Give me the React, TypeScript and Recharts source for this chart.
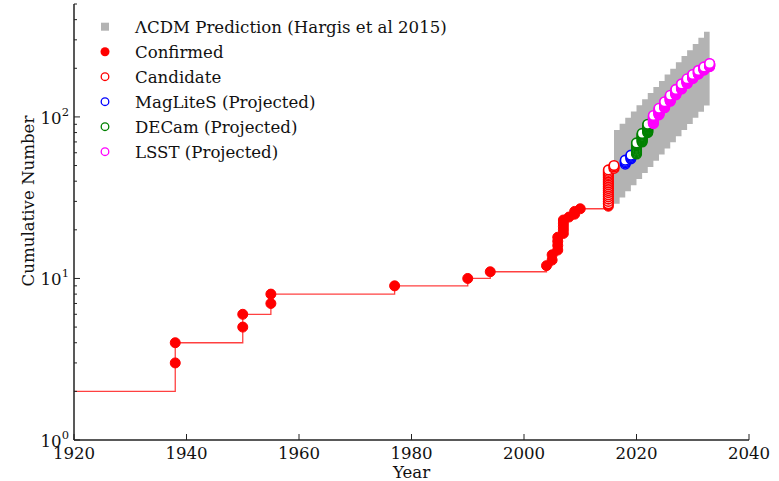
import React from 'react';
import { ComposedChart, XAxis, YAxis, Scatter, Line, Area, Legend, Label } from 'recharts';

const FONT = '"DejaVu Serif", "Liberation Serif", serif';
const FONT_SIZE = 16.6;
const AXIS_COLOR = '#222222';

// Satellites known before the first step (LMC, SMC)
const startYear = 1920;
const startCount = 2;

// Confirmed discoveries: year and running total
const confirmedYears = [
  1938, 1938, 1950, 1950, 1955, 1955, 1977, 1990, 1994, 2004, 2005, 2005, 2006, 2006,
  2006, 2006, 2007, 2007, 2007, 2007, 2007, 2008, 2009, 2009, 2010, 2015,
];
const confirmedCounts = [
  3, 4, 5, 6, 7, 8, 9, 10, 11, 12, 13, 14, 15, 16, 17, 18, 19, 20, 21, 22, 23, 24, 25, 26, 27, 28,
];

// Candidates: year and running total
const candidateYears = [
  2015, 2015, 2015, 2015, 2015, 2015, 2015, 2015, 2015, 2015, 2015, 2015, 2015, 2015, 2015,
  2015, 2015, 2015, 2015, 2016, 2016, 2016,
];
const candidateCounts = [
  29, 30, 31, 32, 33, 34, 35, 36, 37, 38, 39, 40, 41, 42, 43, 44, 45, 46, 47, 48, 49, 50,
];

// Projected running totals at the end of each survey year
const magLiteSYears = [2018, 2019];
const magLiteSTotals = [54, 58];
const decamYears = [2020, 2021, 2022];
const decamTotals = [69, 79, 90];
const lsstYears = [2023, 2024, 2025, 2026, 2027, 2028, 2029, 2030, 2031, 2032, 2033];
const lsstTotals = [102, 113, 124, 136, 148, 160, 172, 183, 194, 204, 214];

// ΛCDM prediction band (Hargis et al 2015), one step per year
const bandYears = [
  2016, 2017, 2018, 2019, 2020, 2021, 2022, 2023, 2024, 2025, 2026, 2027, 2028, 2029, 2030,
  2031, 2032, 2033,
];
const bandLow = [
  29, 31.7, 34.6, 37.7, 41.2, 45, 49, 53.6, 58.5, 63.8, 69.6, 76, 83, 90.5, 98.8, 107.8, 117.6,
  117.6,
];
const bandHigh = [
  83, 90.6, 98.9, 108, 118, 128.7, 140.5, 153, 167, 183, 199, 218, 238, 259, 283, 309, 337, 337,
];

// Axis ticks
const xTicks = [1920, 1940, 1960, 1980, 2000, 2020, 2040];
const yMajorTicks = [1, 10, 100];
const yMinorTicks = [2, 3, 4, 5, 6, 7, 8, 9, 20, 30, 40, 50, 60, 70, 80, 90, 200, 300, 400, 500];
const yTicks = [...yMajorTicks, ...yMinorTicks].sort((a, b) => a - b);

type Pt = { year: number; n: number };

const zipPoints = (years: number[], counts: number[]): Pt[] =>
  years.map((year, i) => ({ year, n: counts[i] }));

// One marker per object, stacked at the year it is expected
const stackPoints = (years: number[], totals: number[], before: number): Pt[] => {
  const pts: Pt[] = [];
  let prev = before;
  years.forEach((year, i) => {
    for (let n = prev + 1; n <= totals[i]; n += 1) pts.push({ year, n });
    prev = totals[i];
  });
  return pts;
};

const confirmedData = zipPoints(confirmedYears, confirmedCounts);
const candidateData = zipPoints(candidateYears, candidateCounts);
const lastCandidate = candidateCounts[candidateCounts.length - 1];
const magLiteSData = stackPoints(magLiteSYears, magLiteSTotals, lastCandidate);
const decamData = stackPoints(decamYears, decamTotals, magLiteSTotals[magLiteSTotals.length - 1]);
const lsstData = stackPoints(lsstYears, lsstTotals, decamTotals[decamTotals.length - 1]);

const stepData: Pt[] = [{ year: startYear, n: startCount }, ...confirmedData, ...candidateData].sort(
  (a, b) => a.year - b.year || a.n - b.n
);

const bandData = bandYears.map((year, i) => ({ year, band: [bandLow[i], bandHigh[i]] }));

const filledDot = (color: string) => (p: any) => (
  <circle cx={p.cx} cy={p.cy} r={5} fill={color} stroke={color} strokeWidth={1} />
);
const openDot = (color: string) => (p: any) => (
  <circle cx={p.cx} cy={p.cy} r={4.8} fill="#ffffff" stroke={color} strokeWidth={1.6} />
);

const XTick = (props: any) => {
  const { x, y, payload } = props;
  return (
    <g>
      <line x1={x} x2={x} y1={y} y2={y - 6} stroke={AXIS_COLOR} strokeWidth={1} />
      <text x={x} y={y + 19} textAnchor="middle" fontFamily={FONT} fontSize={FONT_SIZE} fill="#111">
        {payload.value}
      </text>
    </g>
  );
};

const TopTick = (props: any) => {
  const { x, y } = props;
  return <line x1={x} x2={x} y1={y} y2={y + 6} stroke={AXIS_COLOR} strokeWidth={1} />;
};

const LeftTick = (props: any) => {
  const { x, y, payload } = props;
  const v = payload.value as number;
  const major = yMajorTicks.includes(v);
  return (
    <g>
      <line x1={x} x2={x + (major ? 6 : 3)} y1={y} y2={y} stroke={AXIS_COLOR} strokeWidth={1} />
      {major && (
        <text x={x - 5} y={y + 7} textAnchor="end" fontFamily={FONT} fontSize={FONT_SIZE} fill="#111">
          10
          <tspan dy={-8} fontSize={11.5}>
            {Math.round(Math.log10(v))}
          </tspan>
        </text>
      )}
    </g>
  );
};

const RightTick = (props: any) => {
  const { x, y, payload } = props;
  const major = yMajorTicks.includes(payload.value as number);
  return <line x1={x} x2={x - (major ? 6 : 3)} y1={y} y2={y} stroke={AXIS_COLOR} strokeWidth={1} />;
};

const legendItems = [
  { label: 'ΛCDM Prediction (Hargis et al 2015)', kind: 'square', color: '#b3b3b3' },
  { label: 'Confirmed', kind: 'filled', color: '#ff0000' },
  { label: 'Candidate', kind: 'open', color: '#ff0000' },
  { label: 'MagLiteS (Projected)', kind: 'open', color: '#0000ff' },
  { label: 'DECam (Projected)', kind: 'open', color: '#008000' },
  { label: 'LSST (Projected)', kind: 'open', color: '#ff00ff' },
];

const LegendBox = () => (
  <svg width={470} height={170} style={{ display: 'block' }}>
    {legendItems.map((it, i) => {
      const cy = 26.7 + i * 25;
      const cx = 105;
      let marker;
      if (it.kind === 'square') {
        marker = <rect x={cx - 4} y={cy - 4} width={8} height={8} fill={it.color} />;
      } else if (it.kind === 'filled') {
        marker = <circle cx={cx} cy={cy} r={4.5} fill={it.color} />;
      } else {
        marker = <circle cx={cx} cy={cy} r={3.8} fill="#fff" stroke={it.color} strokeWidth={1.3} />;
      }
      return (
        <g key={it.label}>
          {marker}
          <text x={135} y={cy + 6} fontFamily={FONT} fontSize={FONT_SIZE} fill="#111">
            {it.label}
          </text>
        </g>
      );
    })}
  </svg>
);

export default function App() {
  return (
    <div style={{ position: 'absolute', left: 0, top: 0, width: 779, height: 481, background: '#fff' }}>
      <ComposedChart
        width={779}
        height={481}
        margin={{ top: 4, right: 30, bottom: 0, left: 0 }}
        style={{ fontFamily: FONT }}
      >
        <XAxis
          dataKey="year"
          type="number"
          domain={[1920, 2040]}
          allowDataOverflow
          ticks={xTicks}
          interval={0}
          tickSize={0}
          tickMargin={0}
          tickLine={false}
          tick={<XTick />}
          axisLine={{ stroke: AXIS_COLOR, strokeWidth: 1.5 }}
          height={41}
        >
          <Label
            content={(p: any) => {
              const vb = p.viewBox;
              return (
                <text
                  x={vb.x + vb.width / 2}
                  y={478}
                  textAnchor="middle"
                  fontFamily={FONT}
                  fontSize={FONT_SIZE}
                  fill="#111"
                >
                  Year
                </text>
              );
            }}
          />
        </XAxis>
        <XAxis
          xAxisId="top"
          orientation="top"
          dataKey="year"
          type="number"
          domain={[1920, 2040]}
          allowDataOverflow
          ticks={xTicks}
          interval={0}
          tickSize={0}
          tickMargin={0}
          tickLine={false}
          tick={<TopTick />}
          axisLine={{ stroke: AXIS_COLOR, strokeWidth: 1.5 }}
          height={0}
        />
        <YAxis
          scale="log"
          domain={[1, 500]}
          allowDataOverflow
          ticks={yTicks}
          interval={0}
          tickSize={0}
          tickMargin={0}
          tickLine={false}
          tick={<LeftTick />}
          axisLine={{ stroke: AXIS_COLOR, strokeWidth: 1.5 }}
          width={74}
        >
          <Label
            content={() => {
              const cx = 28;
              const cy = 201;
              return (
                <text
                  x={cx}
                  y={cy}
                  transform={`rotate(-90 ${cx} ${cy})`}
                  textAnchor="middle"
                  dominantBaseline="central"
                  fontFamily={FONT}
                  fontSize={FONT_SIZE}
                  fill="#111"
                >
                  Cumulative Number
                </text>
              );
            }}
          />
        </YAxis>
        <YAxis
          yAxisId="right"
          orientation="right"
          scale="log"
          domain={[1, 500]}
          allowDataOverflow
          ticks={yTicks}
          interval={0}
          tickSize={0}
          tickMargin={0}
          tickLine={false}
          tick={<RightTick />}
          axisLine={{ stroke: AXIS_COLOR, strokeWidth: 1.5 }}
          width={0}
        />
        <Legend
          layout="horizontal"
          verticalAlign="middle"
          align="center"
          wrapperStyle={{ left: 0, top: 0, width: 470, height: 170 }}
          content={() => <LegendBox />}
        />
        <Area
          data={bandData}
          dataKey="band"
          type="stepAfter"
          fill="#b3b3b3"
          fillOpacity={1}
          stroke="none"
          isAnimationActive={false}
          legendType="none"
        />
        <Line
          data={stepData}
          dataKey="n"
          type="stepAfter"
          stroke="#ff0000"
          strokeOpacity={0.75}
          strokeWidth={1.3}
          dot={false}
          activeDot={false}
          isAnimationActive={false}
        />
        <Scatter data={confirmedData} dataKey="n" shape={filledDot('#ff0000')} isAnimationActive={false} />
        <Scatter data={candidateData} dataKey="n" shape={openDot('#ff0000')} isAnimationActive={false} />
        <Scatter data={magLiteSData} dataKey="n" shape={openDot('#0000ff')} isAnimationActive={false} />
        <Scatter data={decamData} dataKey="n" shape={openDot('#008000')} isAnimationActive={false} />
        <Scatter data={lsstData} dataKey="n" shape={openDot('#ff00ff')} isAnimationActive={false} />
      </ComposedChart>
    </div>
  );
}
